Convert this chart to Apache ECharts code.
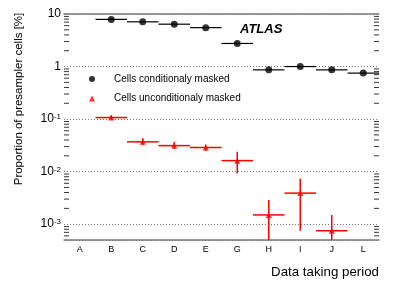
<!DOCTYPE html>
<html>
<head>
<meta charset="utf-8">
<script src="https://cdn.jsdelivr.net/npm/echarts@6/dist/echarts.min.js"></script>
<style>html,body{margin:0;padding:0;background:#fff}#c{width:399px;height:286px}</style>
</head>
<body>
<div id="c"></div>
<script>
var categories = ['A','B','C','D','E','G','H','I','J','L'];
var condMasked = [null, 7.9, 7.1, 6.4, 5.5, 2.75, 0.865, 1.0, 0.865, 0.75];
var uncondMasked = [null, 0.107, 0.0369, 0.0313, 0.0288, 0.0162, 0.0015, 0.0039, 0.00075, null];
var uncondLow = [null, 0.098, 0.032, 0.027, 0.025, 0.0092, 0.0002, 0.00075, 0.0002, null];
var uncondHigh = [null, 0.117, 0.043, 0.037, 0.033, 0.024, 0.0029, 0.0073, 0.0015, null];
var yMin = 5e-4, yMax = 10;
var legendNames = ['Cells conditionaly masked', 'Cells unconditionaly masked'];

var minorTicks = [];
for (var k = -4; k <= 0; k++) {
  for (var m = 2; m <= 9; m++) {
    var v = m * Math.pow(10, k);
    if (v > yMin && v < yMax) minorTicks.push([0, v]);
  }
}

function pairs(arr) {
  var out = [];
  arr.forEach(function (v, i) { if (v != null) out.push([i, v]); });
  return out;
}
function errData(vals, lo, hi) {
  var out = [];
  vals.forEach(function (v, i) {
    if (v != null) out.push([i, v, lo ? lo[i] : v, hi ? hi[i] : v]);
  });
  return out;
}
function errRender(color, width) {
  return function (params, api) {
    var c = api.coord([api.value(0), api.value(1)]);
    var bw = api.size([1, 0])[0];
    var lo = api.coord([api.value(0), api.value(2)])[1];
    var hi = api.coord([api.value(0), api.value(3)])[1];
    var cs = params.coordSys;
    return {
      type: 'group',
      children: [
        { type: 'line', shape: { x1: c[0] - bw / 2, y1: c[1], x2: c[0] + bw / 2, y2: c[1] },
          style: { stroke: color, lineWidth: width } },
        { type: 'line', shape: { x1: c[0], y1: hi, x2: c[0], y2: Math.min(lo, cs.y + cs.height) },
          style: { stroke: color, lineWidth: width } }
      ]
    };
  };
}
function fmt(v) {
  var l = Math.log10(v);
  var e = Math.round(l);
  if (Math.abs(l - e) > 1e-6) return '';
  if (e === 0) return '1';
  if (e === 1) return '10';
  return '10{s|' + e + '}';
}

var axisLineStyle = { color: '#7a7a7a', width: 1.6 };
var chart = echarts.init(document.getElementById('c'));
chart.setOption({
  animation: false,
  textStyle: { fontFamily: 'Liberation Sans' },
  grid: { left: 64, top: 14, right: 20, bottom: 46 },
  xAxis: [
    { type: 'category', data: categories, position: 'bottom', boundaryGap: true,
      axisLine: { lineStyle: axisLineStyle },
      axisTick: { inside: true, alignWithLabel: true, length: 7, lineStyle: { color: '#000', width: 1 } },
      axisLabel: { fontSize: 9, margin: 5, color: '#000', interval: 0 },
      splitLine: { show: false } },
    { type: 'category', data: categories, position: 'top', boundaryGap: true,
      axisLine: { lineStyle: axisLineStyle },
      axisTick: { inside: true, alignWithLabel: true, length: 7, lineStyle: { color: '#000', width: 1 } },
      axisLabel: { show: false }, splitLine: { show: false } }
  ],
  yAxis: [
    { type: 'log', logBase: 10, min: yMin, max: yMax, position: 'left',
      axisLine: { lineStyle: axisLineStyle },
      axisTick: { inside: true, length: 10, lineStyle: { color: '#333', width: 1 } },
      axisLabel: { fontSize: 12, margin: 3, color: '#000', formatter: fmt,
        rich: { s: { fontSize: 8, verticalAlign: 'top', lineHeight: 12 } } },
      splitLine: { show: true, lineStyle: { color: '#777', type: [1, 2], width: 1 } } },
    { type: 'log', logBase: 10, min: yMin, max: yMax, position: 'right',
      axisLine: { lineStyle: axisLineStyle },
      axisTick: { inside: true, length: 10, lineStyle: { color: '#333', width: 1 } },
      axisLabel: { show: false }, splitLine: { show: false } }
  ],
  legend: {
    data: legendNames, orient: 'vertical', left: 89, top: 73, padding: 0,
    itemWidth: 6, itemHeight: 6, itemGap: 7.6,
    textStyle: { fontSize: 10, color: '#000', lineHeight: 12, padding: [0, 0, 0, 14] },
    selectedMode: false
  },
  graphic: [
    { type: 'text', x: 19, y: 99, rotation: Math.PI / 2,
      style: { text: 'Proportion of presampler cells [%]', font: '11.5px "Liberation Sans"',
        fill: '#000', textAlign: 'center', textVerticalAlign: 'middle' } },
    { type: 'text', x: 379, y: 272,
      style: { text: 'Data taking period', font: '13.3px "Liberation Sans"',
        fill: '#000', textAlign: 'right', textVerticalAlign: 'middle' } },
    { type: 'text', x: 240, y: 29,
      style: { text: 'ATLAS', font: 'italic bold 13px "Liberation Sans"',
        fill: '#000', textAlign: 'left', textVerticalAlign: 'middle' } }
  ],
  series: [
    { type: 'custom', name: 'minor', xAxisIndex: 0, yAxisIndex: 0, silent: true,
      data: minorTicks,
      renderItem: function (params, api) {
        var y = api.coord([0, api.value(1)])[1];
        var cs = params.coordSys;
        return { type: 'group', children: [
          { type: 'line', shape: { x1: cs.x, y1: y, x2: cs.x + 5, y2: y }, style: { stroke: '#333', lineWidth: 1 } },
          { type: 'line', shape: { x1: cs.x + cs.width - 5, y1: y, x2: cs.x + cs.width, y2: y }, style: { stroke: '#333', lineWidth: 1 } }
        ] };
      } },
    { type: 'custom', name: 'condErr', clip: true, silent: true,
      data: errData(condMasked), renderItem: errRender('#000', 1.2) },
    { type: 'custom', name: 'uncondErr', clip: true, silent: true,
      data: errData(uncondMasked, uncondLow, uncondHigh), renderItem: errRender('#ff0000', 1.5) },
    { type: 'scatter', name: legendNames[0], data: pairs(condMasked),
      symbol: 'circle', symbolSize: 7, itemStyle: { color: '#000' }, silent: true },
    { type: 'scatter', name: legendNames[1], data: pairs(uncondMasked),
      symbol: 'triangle', symbolSize: 6, itemStyle: { color: '#ff0000' }, silent: true }
  ]
});
</script>
</body>
</html>
